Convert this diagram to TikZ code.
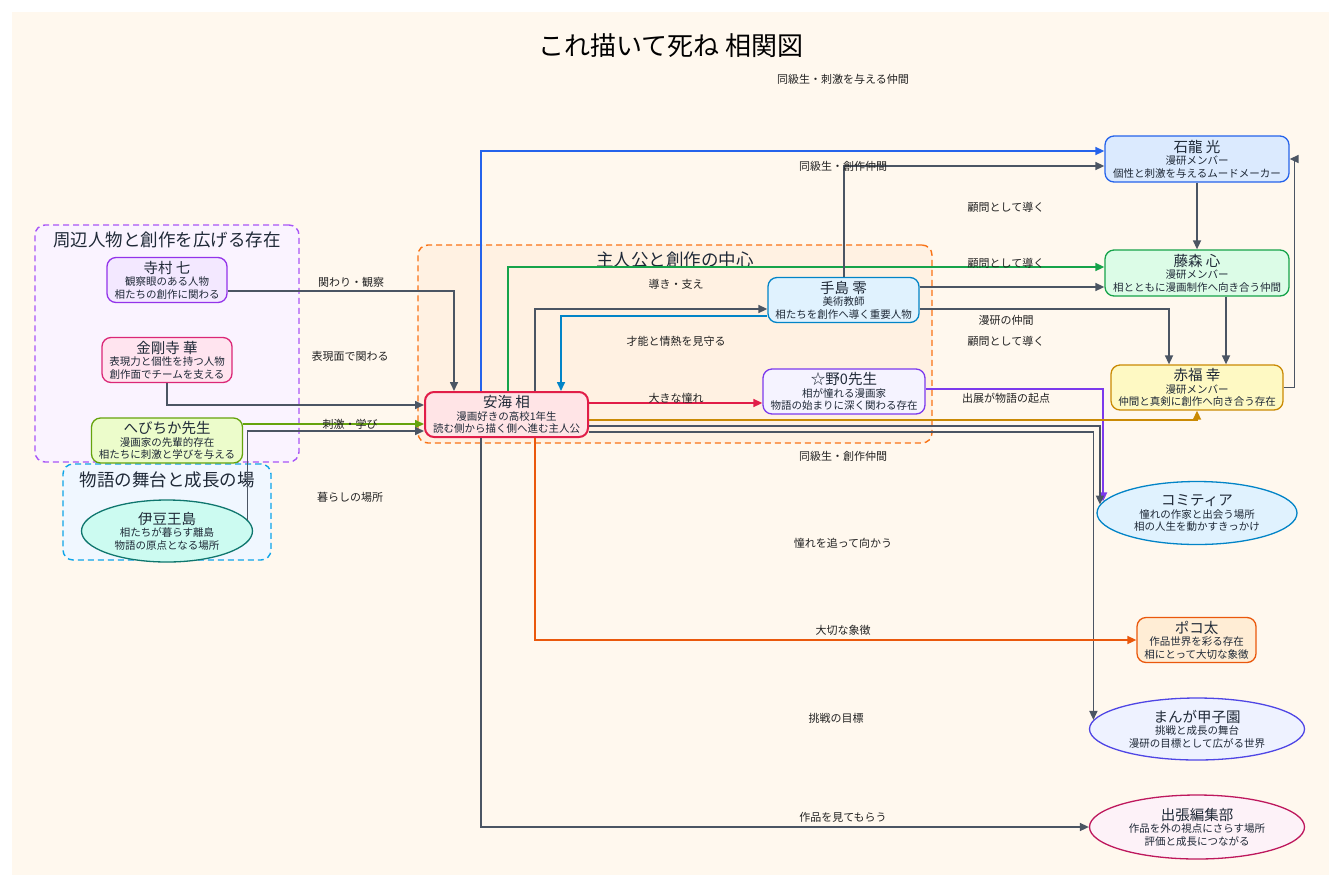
\documentclass[tikz,border=0pt]{standalone}
\usepackage{fontspec}
\setmainfont{Noto Sans CJK JP}
\usetikzlibrary{shapes.geometric,arrows.meta}
\definecolor{bgc}{HTML}{FFF8EE}
\definecolor{edgec}{HTML}{4B5563}
\definecolor{textc}{HTML}{1F2937}
\definecolor{labelc}{HTML}{222222}
\definecolor{blueE}{HTML}{2563EB}
\definecolor{greenE}{HTML}{16A34A}
\definecolor{limeE}{HTML}{65A30D}
\definecolor{skyE}{HTML}{0284C7}
\definecolor{redE}{HTML}{E11D48}
\definecolor{purpleE}{HTML}{7C3AED}
\definecolor{goldE}{HTML}{CA8A04}
\definecolor{orangeE}{HTML}{EA580C}
\definecolor{grpPurple}{HTML}{A855F7}
\newcommand\nmx[1]{{\fontsize{14.5}{14.5}\selectfont #1}}
\begin{document}
\begin{tikzpicture}[x=1pt,y=-1pt,
  box/.style={draw, rounded corners=9pt, line width=1.3pt, inner sep=0pt, align=center,
    font=\fontsize{10.5}{12.5}\selectfont, text=textc},
  ell/.style={ellipse, draw, line width=1.3pt, inner sep=0pt, align=center,
    font=\fontsize{10.5}{12.5}\selectfont, text=textc},
  grp/.style={draw, dash pattern=on 6pt off 4pt, line width=1.4pt, rounded corners=10pt, inner sep=0pt},
  gtitle/.style={font=\fontsize{17.5}{18}\selectfont, text=textc, inner sep=0pt},
  e/.style={draw=edgec, line width=1.6pt, -{Triangle[length=9pt,width=8pt]}},
  lbl/.style={font=\fontsize{11}{11}\selectfont, text=labelc, inner sep=1pt}]
\useasboundingbox (0,0) rectangle (1341,887);
\fill[white] (0,0) rectangle (1341,887);
\fill[bgc] (12,12) rectangle (1329,875);

\node[font=\fontsize{26}{28}\selectfont, text=black] (title) at (671,46) {これ描いて死ね 相関図};

% groups
\node[grp, draw=grpPurple, fill={rgb,255:red,250;green,243;blue,255}, minimum width=264pt, minimum height=237pt] (g1) at (167,343.5) {};
\node[grp, draw={rgb,255:red,14;green,165;blue,233}, fill={rgb,255:red,240;green,247;blue,255}, minimum width=208pt, minimum height=96pt] (g2) at (167,512) {};
\node[grp, draw={rgb,255:red,249;green,115;blue,22}, fill={rgb,255:red,255;green,241;blue,226}, minimum width=514pt, minimum height=198pt] (g3) at (675,344) {};
\node[gtitle] (g1t) at (167,240) {周辺人物と創作を広げる存在};
\node[gtitle] (g2t) at (167,480) {物語の舞台と成長の場};
\node[gtitle] (g3t) at (675,260) {主人公と創作の中心};

% nodes
\node[box, fill={rgb,255:red,243;green,232;blue,255}, draw={rgb,255:red,147;green,51;blue,234}, minimum width=120pt, minimum height=45pt] (tera) at (167,280) {\nmx{寺村 七}\\観察眼のある人物\\相たちの創作に関わる};
\node[box, fill={rgb,255:red,255;green,228;blue,239}, draw={rgb,255:red,219;green,39;blue,119}, minimum width=130pt, minimum height=45pt] (kon) at (167,360) {\nmx{金剛寺 華}\\表現力と個性を持つ人物\\創作面でチームを支える};
\node[box, fill={rgb,255:red,236;green,252;blue,203}, draw=limeE, minimum width=151pt, minimum height=45pt] (hebi) at (167,440.5) {\nmx{へびちか先生}\\漫画家の先輩的存在\\相たちに刺激と学びを与える};
\node[ell, fill={rgb,255:red,204;green,251;blue,241}, draw={rgb,255:red,15;green,118;blue,110}, minimum width=171pt, minimum height=62pt] (izu) at (167,531) {\nmx{伊豆王島}\\相たちが暮らす離島\\物語の原点となる場所};
\node[box, fill={rgb,255:red,255;green,228;blue,230}, draw=redE, line width=2pt, minimum width=163pt, minimum height=45pt] (anmi) at (506.5,414.5) {\nmx{安海 相}\\漫画好きの高校1年生\\読む側から描く側へ進む主人公};
\node[box, fill={rgb,255:red,224;green,242;blue,254}, draw=skyE, minimum width=151pt, minimum height=45pt] (teshima) at (843.5,300) {\nmx{手島 零}\\美術教師\\相たちを創作へ導く重要人物};
\node[box, fill={rgb,255:red,245;green,243;blue,255}, draw=purpleE, minimum width=162pt, minimum height=45pt] (hoshino) at (844,391.5) {\nmx{☆野0先生}\\相が憧れる漫画家\\物語の始まりに深く関わる存在};
\node[box, fill={rgb,255:red,219;green,234;blue,254}, draw=blueE, minimum width=184pt, minimum height=46pt] (ishi) at (1197,159) {\nmx{石龍 光}\\漫研メンバー\\個性と刺激を与えるムードメーカー};
\node[box, fill={rgb,255:red,220;green,252;blue,231}, draw=greenE, minimum width=184pt, minimum height=46pt] (fuji) at (1197,273) {\nmx{藤森 心}\\漫研メンバー\\相とともに漫画制作へ向き合う仲間};
\node[box, fill={rgb,255:red,254;green,249;blue,195}, draw=goldE, minimum width=172pt, minimum height=45pt] (aka) at (1197,387.5) {\nmx{赤福 幸}\\漫研メンバー\\仲間と真剣に創作へ向き合う存在};
\node[ell, fill={rgb,255:red,224;green,242;blue,254}, draw=skyE, minimum width=200pt, minimum height=63pt] (comi) at (1197,513) {\nmx{コミティア}\\憧れの作家と出会う場所\\相の人生を動かすきっかけ};
\node[box, fill={rgb,255:red,255;green,237;blue,213}, draw=orangeE, minimum width=119pt, minimum height=45pt] (poko) at (1196.5,640) {\nmx{ポコ太}\\作品世界を彩る存在\\相にとって大切な象徴};
\node[ell, fill={rgb,255:red,238;green,242;blue,255}, draw={rgb,255:red,79;green,70;blue,229}, minimum width=215pt, minimum height=62pt] (koshien) at (1197,729) {\nmx{まんが甲子園}\\挑戦と成長の舞台\\漫研の目標として広がる世界};
\node[ell, fill={rgb,255:red,253;green,242;blue,248}, draw={rgb,255:red,190;green,24;blue,93}, minimum width=215pt, minimum height=64pt] (hensyu) at (1197,827) {\nmx{出張編集部}\\作品を外の視点にさらす場所\\評価と成長につながる};

% edges
\draw[e] (tera.east |- 0,291) -| (anmi.north -| 454,0);
\draw[e] (kon.south) |- (anmi.west |- 0,405);
\draw[e, draw=limeE] (hebi.east |- 0,424) -- (anmi.west |- 0,424);
\draw[e] (izu.8) |- (anmi.west |- 0,431);
\draw[e, draw=blueE] (anmi.north -| 481,0) |- (ishi.west |- 0,151);
\draw[e, draw=greenE] (anmi.north -| 508,0) |- (fuji.west |- 0,267);
\draw[e] (anmi.north -| 535,0) |- (teshima.west |- 0,309);
\draw[e, draw=skyE] (teshima.west |- 0,316) -| (anmi.north -| 561,0);
\draw[e, draw=redE] (anmi.east |- 0,403) -- (hoshino.west |- 0,403);
\draw[e] (teshima.north -| 844,0) |- (ishi.west |- 0,166);
\draw[e] (teshima.east |- 0,287) -- (fuji.west |- 0,287);
\draw[e] (teshima.east |- 0,309) -| (aka.north -| 1169,0);
\draw[e] (ishi.south) -- (fuji.north);
\draw[e] (fuji.south -| 1226,0) -- (aka.north -| 1226,0);
\draw[e] (aka.east) -- ++(11,0) |- (ishi.east);
\draw[e, draw=purpleE] (hoshino.east |- 0,389) -| (comi.173.5);
\draw[e, draw=goldE] (anmi.east |- 0,420) -| (aka.south);
\draw[e] (anmi.east |- 0,426) -| (comi.175.5);
\draw[e] (anmi.east |- 0,432) -| (koshien.175.7);
\draw[e, draw=orangeE] (anmi.south -| 535,0) |- (poko.west);
\draw[e] (anmi.south -| 481,0) |- (hensyu.west);

% edge labels
\node[lbl] (l1) at (843,79) {同級生・刺激を与える仲間};
\node[lbl] (l2) at (843,166) {同級生・創作仲間};
\node[lbl] (l3) at (1006,207) {顧問として導く};
\node[lbl] (l4) at (1006,263) {顧問として導く};
\node[lbl] (l5) at (351,282) {関わり・観察};
\node[lbl] (l6) at (676,284) {導き・支え};
\node[lbl] (l7) at (1006,320) {漫研の仲間};
\node[lbl] (l8) at (676,341) {才能と情熱を見守る};
\node[lbl] (l9) at (1006,341) {顧問として導く};
\node[lbl] (l10) at (350,356) {表現面で関わる};
\node[lbl] (l11) at (676,398) {大きな憧れ};
\node[lbl] (l12) at (1006,398) {出展が物語の起点};
\node[lbl] (l13) at (350,424) {刺激・学び};
\node[lbl] (l14) at (843,456) {同級生・創作仲間};
\node[lbl] (l15) at (350,497) {暮らしの場所};
\node[lbl] (l16) at (843,543) {憧れを追って向かう};
\node[lbl] (l17) at (843,630) {大切な象徴};
\node[lbl] (l18) at (836,718) {挑戦の目標};
\node[lbl] (l19) at (843,817) {作品を見てもらう};
\end{tikzpicture}
\end{document}
